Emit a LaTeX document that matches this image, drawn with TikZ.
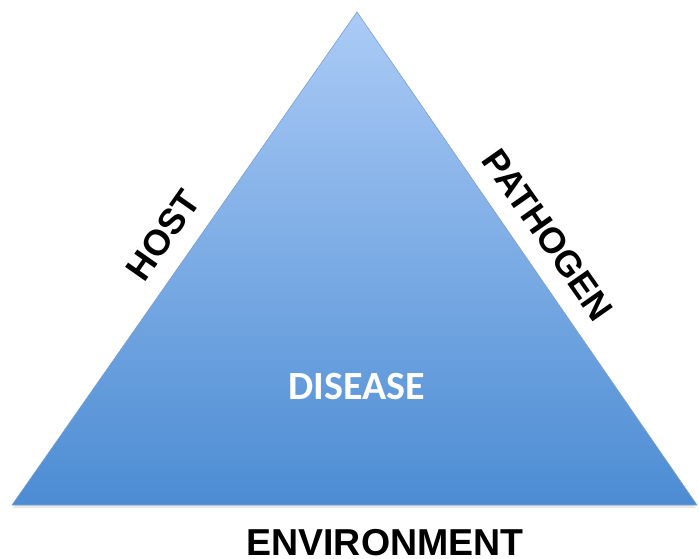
\documentclass[tikz,border=0pt]{standalone}
\usepackage{fontspec}
\setmainfont{Liberation Sans}
\newfontfamily\calibrifont{Carlito}
\usepackage{tikz}
\usetikzlibrary{positioning}

\definecolor{triTop}{HTML}{ABCBF6}
\definecolor{triBottom}{HTML}{4C8CD3}
\definecolor{triEdge}{HTML}{7E9FCB}

\tikzset{
  sidelabel/.style={font=\fontsize{36}{36}\selectfont\bfseries, text=black, inner sep=0pt},
  centerlabel/.style={font=\calibrifont\fontsize{40}{40}\selectfont\bfseries, text=white, inner sep=0pt}
}

\begin{document}
\begin{tikzpicture}[x=1pt,y=-1pt]
\useasboundingbox (0,0) rectangle (699,558);
% corners of the triangle
\coordinate (apex) at (357,12);
\coordinate (bl) at (12,505);
\coordinate (br) at (697,505);

% soft shadow under the base
\fill[gray!25, opacity=0.7] ([yshift=-3pt]bl) -- ([yshift=-3pt]br) -- ([xshift=-4pt]br) -- ([xshift=4pt]bl) -- cycle;
\shade[top color=triTop, bottom color=triBottom] (apex) -- (br) -- (bl) -- cycle;
\draw[triEdge, line width=0.6pt] (apex) -- (br) -- (bl) -- cycle;

% labels
\node[sidelabel, rotate=55] (host) at (163,235) {HOST};
\node[sidelabel, rotate=-55] (pathogen) at (548,235) {PATHOGEN};
\node[sidelabel, anchor=base, font=\fontsize{37.5}{37.5}\selectfont\bfseries] (environment) at (385,555) {ENVIRONMENT};
\node[centerlabel] (disease) at (357,387) {DISEASE};
\end{tikzpicture}
\end{document}
